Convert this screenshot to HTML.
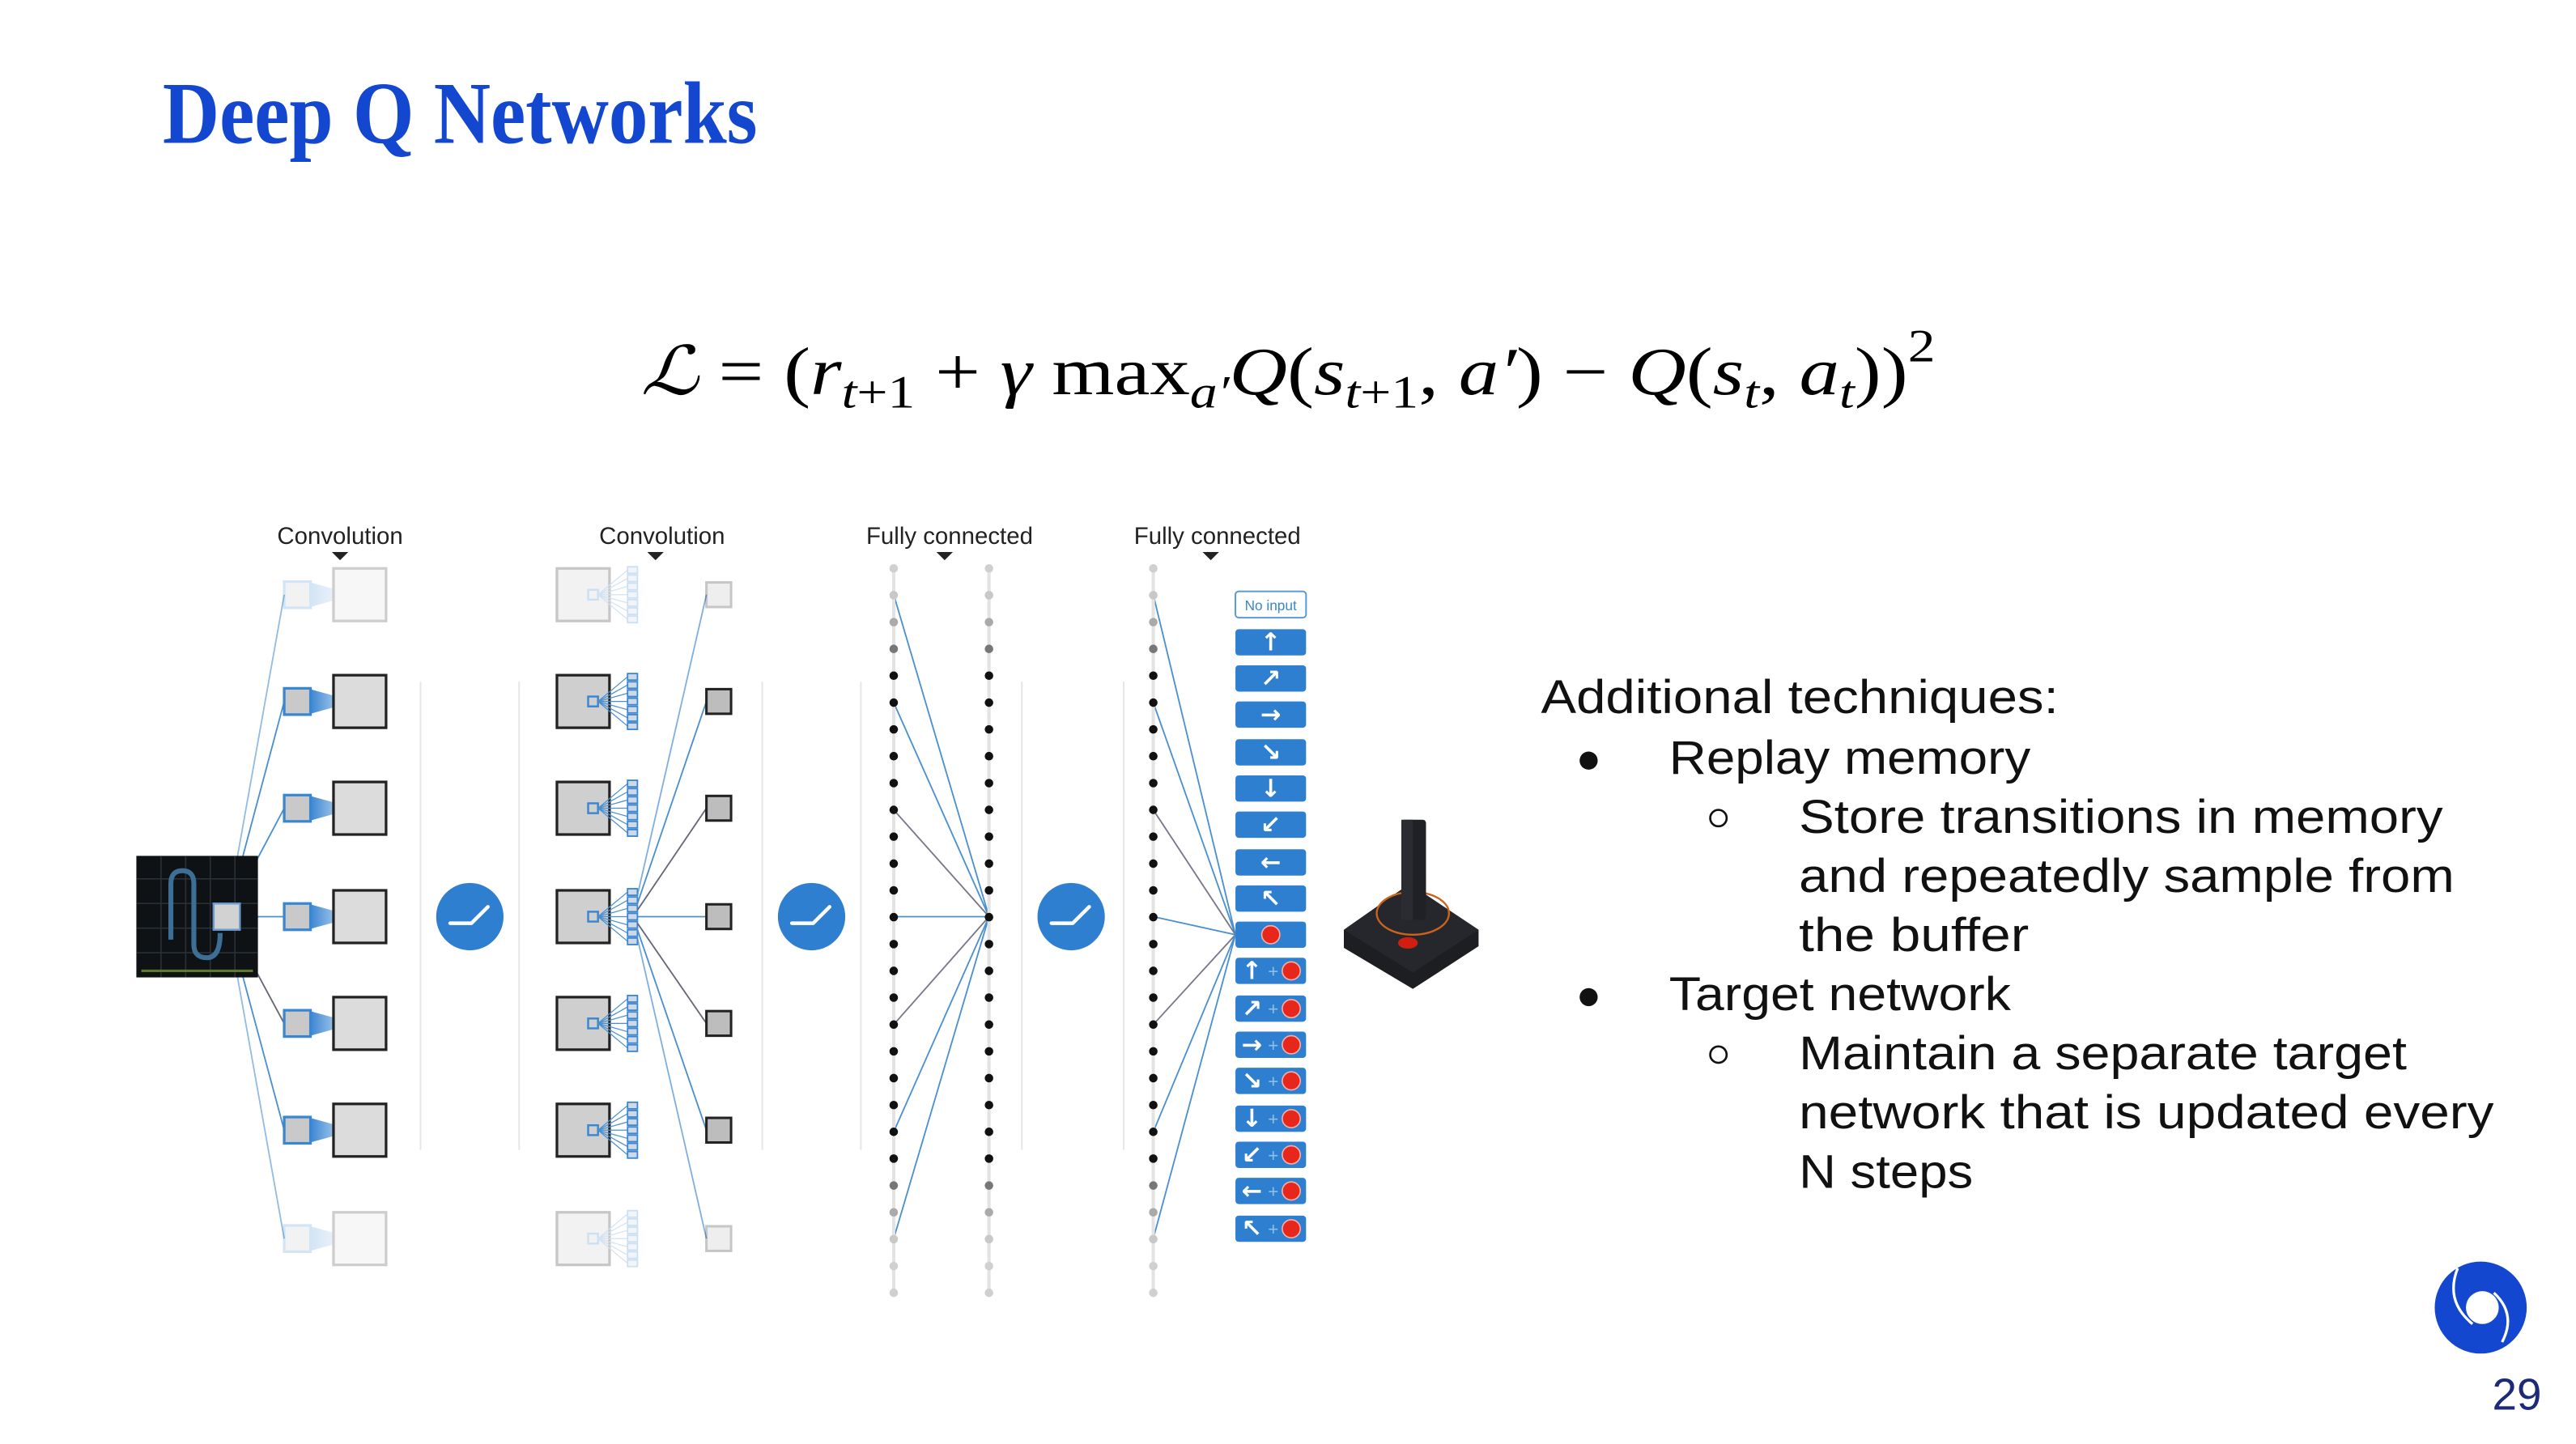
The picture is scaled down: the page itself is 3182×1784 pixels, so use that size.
<!DOCTYPE html>
<html><head><meta charset="utf-8"><style>
html,body{margin:0;padding:0;background:#fff;}
svg{display:block;}
</style></head><body>
<svg width="3182" height="1784" viewBox="0 0 1568 879" xmlns="http://www.w3.org/2000/svg" font-family="Liberation Sans, sans-serif">
<defs>
<linearGradient id="cone" x1="0" x2="1" y1="0" y2="0">
<stop offset="0" stop-color="#2f7fd0"/><stop offset="1" stop-color="#2f7fd0" stop-opacity="0.1"/>
</linearGradient>
<g id="c1">
<polygon points="187,-8 216,0 187,8" fill="url(#cone)"/>
<rect x="173" y="-8" width="16" height="16" fill="#c9c9c9" stroke="#3a86d0" stroke-width="1.6"/>
<rect x="203" y="-16" width="32" height="32" fill="#dcdcdc" stroke="#222" stroke-width="1.6"/>
</g>
<g id="c2">
<rect x="339" y="-16" width="32" height="32" fill="#cfcfcf" stroke="#222" stroke-width="1.6"/>
<rect x="358" y="-3" width="6" height="6" fill="none" stroke="#3a86d0" stroke-width="1.2"/>
<g stroke="#4a90d0" stroke-width="0.6">
<line x1="364" y1="0" x2="382" y2="-15"/><line x1="364" y1="0" x2="382" y2="-10"/><line x1="364" y1="0" x2="382" y2="-5"/><line x1="364" y1="0" x2="382" y2="0"/><line x1="364" y1="0" x2="382" y2="5"/><line x1="364" y1="0" x2="382" y2="10"/><line x1="364" y1="0" x2="382" y2="15"/>
</g>
<g fill="#cfd9e6" stroke="#3a86d0" stroke-width="0.9">
<rect x="382" y="-17" width="6" height="4"/><rect x="382" y="-12" width="6" height="4"/><rect x="382" y="-7" width="6" height="4"/><rect x="382" y="-2" width="6" height="4"/><rect x="382" y="3" width="6" height="4"/><rect x="382" y="8" width="6" height="4"/><rect x="382" y="13" width="6" height="4"/>
</g>
</g>
<g id="sq3"><rect x="430" y="-7.5" width="15" height="15" fill="#bdbdbd" stroke="#222" stroke-width="1.5"/></g>
<g id="dots">
<line x1="0" y1="346" x2="0" y2="787" stroke="#e3e3e3" stroke-width="2"/>
<circle cy="346" r="2.6" fill="#d0d0d0"/><circle cy="362.3" r="2.6" fill="#c8c8c8"/><circle cy="378.7" r="2.6" fill="#aaa"/><circle cy="395" r="2.6" fill="#777"/>
<circle cy="411.3" r="2.6" fill="#111"/><circle cy="427.7" r="2.6" fill="#111"/><circle cy="444" r="2.6" fill="#111"/><circle cy="460.3" r="2.6" fill="#111"/><circle cy="476.7" r="2.6" fill="#111"/><circle cy="493" r="2.6" fill="#111"/><circle cy="509.3" r="2.6" fill="#111"/><circle cy="525.7" r="2.6" fill="#111"/><circle cy="542" r="2.6" fill="#111"/><circle cy="558.3" r="2.6" fill="#111"/><circle cy="574.7" r="2.6" fill="#111"/><circle cy="591" r="2.6" fill="#111"/><circle cy="607.3" r="2.6" fill="#111"/><circle cy="623.7" r="2.6" fill="#111"/><circle cy="640" r="2.6" fill="#111"/><circle cy="656.3" r="2.6" fill="#111"/><circle cy="672.7" r="2.6" fill="#111"/><circle cy="689" r="2.6" fill="#111"/><circle cy="705.3" r="2.6" fill="#111"/>
<circle cy="721.7" r="2.6" fill="#777"/><circle cy="738" r="2.6" fill="#aaa"/><circle cy="754.3" r="2.6" fill="#c8c8c8"/><circle cy="770.7" r="2.6" fill="#d0d0d0"/><circle cy="787" r="2.6" fill="#d0d0d0"/>
</g>
<g id="relu">
<circle r="20.5" fill="#2f7fd0"/>
<polyline points="-12,4 1,4 11,-6" fill="none" stroke="#fff" stroke-width="2.2" stroke-linecap="round" stroke-linejoin="round"/>
</g>
</defs>

<text x="99" y="87" font-family="Liberation Serif, serif" font-weight="bold" font-size="54" fill="#1447d0" textLength="362" lengthAdjust="spacingAndGlyphs">Deep Q Networks</text>

<text x="390" y="240" font-family="Liberation Serif, DejaVu Serif, serif" font-size="41" fill="#000" textLength="788" lengthAdjust="spacingAndGlyphs"><tspan font-style="italic" font-family="DejaVu Serif, serif">ℒ</tspan> = (<tspan font-style="italic">r</tspan><tspan font-size="28" dy="8" font-style="italic">t</tspan><tspan font-size="28">+1</tspan><tspan dy="-8"> + </tspan><tspan font-style="italic">γ</tspan> max<tspan font-size="28" dy="8" font-style="italic">a′</tspan><tspan dy="-8" font-style="italic">Q</tspan>(<tspan font-style="italic">s</tspan><tspan font-size="28" dy="8" font-style="italic">t</tspan><tspan font-size="28">+1</tspan><tspan dy="-8">, </tspan><tspan font-style="italic">a′</tspan>) − <tspan font-style="italic">Q</tspan>(<tspan font-style="italic">s</tspan><tspan font-size="28" dy="8" font-style="italic">t</tspan><tspan dy="-8">, </tspan><tspan font-style="italic">a</tspan><tspan font-size="28" dy="8" font-style="italic">t</tspan><tspan dy="-8">))</tspan><tspan font-size="28" dy="-20">2</tspan></text>

<g font-size="14.5" fill="#222" text-anchor="middle">
<text x="207" y="331">Convolution</text>
<text x="403" y="331">Convolution</text>
<text x="578" y="331">Fully connected</text>
<text x="741" y="331">Fully connected</text>
</g>
<g fill="#222">
<polygon points="202,336 212,336 207,341"/><polygon points="394,336 404,336 399,341"/><polygon points="570,336 580,336 575,341"/><polygon points="732,336 742,336 737,341"/>
</g>

<g stroke="#e6e6e6" stroke-width="1">
<line x1="256" y1="415" x2="256" y2="700"/><line x1="316" y1="415" x2="316" y2="700"/>
<line x1="464" y1="415" x2="464" y2="700"/><line x1="524" y1="415" x2="524" y2="700"/>
<line x1="622" y1="415" x2="622" y2="700"/><line x1="684" y1="415" x2="684" y2="700"/>
</g>

<g stroke="#4a90d0" stroke-width="0.9">
<line x1="138" y1="558" x2="173" y2="362" opacity="0.6"/><line x1="138" y1="558" x2="173" y2="427"/><line x1="138" y1="558" x2="173" y2="492"/><line x1="138" y1="558" x2="173" y2="558"/><line x1="138" y1="558" x2="173" y2="623" stroke="#667"/><line x1="138" y1="558" x2="173" y2="688"/><line x1="138" y1="558" x2="173" y2="754" opacity="0.6"/>
</g>

<rect x="83" y="521" width="74" height="74" fill="#0f1215"/>
<g stroke="#2a3038" stroke-width="0.8">
<line x1="83" y1="535" x2="157" y2="535"/><line x1="83" y1="550" x2="157" y2="550"/><line x1="83" y1="565" x2="157" y2="565"/><line x1="83" y1="580" x2="157" y2="580"/>
<line x1="98" y1="521" x2="98" y2="595"/><line x1="113" y1="521" x2="113" y2="595"/><line x1="128" y1="521" x2="128" y2="595"/><line x1="143" y1="521" x2="143" y2="595"/>
</g>
<path d="M104,572 L104,538 Q104,530 111,530 Q118,530 118,538 L118,575 Q118,583 126,583 Q134,583 134,568" fill="none" stroke="#3d6f96" stroke-width="3"/>
<line x1="86" y1="591" x2="154" y2="591" stroke="#5d7a2a" stroke-width="1.5"/>
<rect x="130" y="550" width="16" height="16" fill="#d2d2d2" stroke="#6a9ad0" stroke-width="1.2"/>

<use href="#c1" y="362" opacity="0.22"/><use href="#c1" y="427"/><use href="#c1" y="492"/><use href="#c1" y="558"/><use href="#c1" y="623"/><use href="#c1" y="688"/><use href="#c1" y="754" opacity="0.22"/>

<use href="#relu" x="286" y="558"/>

<use href="#c2" y="362" opacity="0.25"/><use href="#c2" y="427"/><use href="#c2" y="492"/><use href="#c2" y="558"/><use href="#c2" y="623"/><use href="#c2" y="688"/><use href="#c2" y="754" opacity="0.25"/>
<g stroke="#4a90d0" stroke-width="0.9">
<line x1="388" y1="545" x2="430" y2="362" opacity="0.7"/><line x1="388" y1="550" x2="430" y2="427"/><line x1="388" y1="554" x2="430" y2="492" stroke="#667"/><line x1="388" y1="558" x2="430" y2="558"/><line x1="388" y1="562" x2="430" y2="623" stroke="#667"/><line x1="388" y1="566" x2="430" y2="688"/><line x1="388" y1="571" x2="430" y2="754" opacity="0.7"/>
</g>
<use href="#sq3" y="362" opacity="0.25"/><use href="#sq3" y="427"/><use href="#sq3" y="492"/><use href="#sq3" y="558"/><use href="#sq3" y="623"/><use href="#sq3" y="688"/><use href="#sq3" y="754" opacity="0.25"/>

<use href="#relu" x="494" y="558"/>

<g stroke="#4a90d0" stroke-width="0.9">
<line x1="544" y1="362" x2="602" y2="558"/><line x1="544" y1="427.7" x2="602" y2="558"/><line x1="544" y1="493" x2="602" y2="558" stroke="#778"/><line x1="544" y1="558" x2="602" y2="558"/><line x1="544" y1="623.7" x2="602" y2="558" stroke="#778"/><line x1="544" y1="689" x2="602" y2="558"/><line x1="544" y1="754" x2="602" y2="558"/>
</g>
<use href="#dots" x="544"/><use href="#dots" x="602"/>

<use href="#relu" x="652" y="558"/>

<g stroke="#4a90d0" stroke-width="0.9">
<line x1="702" y1="362" x2="752" y2="569"/><line x1="702" y1="427.7" x2="752" y2="569"/><line x1="702" y1="493" x2="752" y2="569" stroke="#778"/><line x1="702" y1="558" x2="752" y2="569"/><line x1="702" y1="623.7" x2="752" y2="569" stroke="#778"/><line x1="702" y1="689" x2="752" y2="569"/><line x1="702" y1="754" x2="752" y2="569"/>
</g>
<use href="#dots" x="702"/>

<rect x="752" y="360" width="43" height="16" rx="2" fill="#fff" stroke="#5a9ad6" stroke-width="1"/>
<text x="773.5" y="371.5" font-size="8.5" fill="#3a86d0" text-anchor="middle">No input</text>
<g fill="#2f7fd0">
<rect x="752" y="383" width="43" height="16" rx="2"/><rect x="752" y="405" width="43" height="16" rx="2"/><rect x="752" y="427" width="43" height="16" rx="2"/><rect x="752" y="450" width="43" height="16" rx="2"/><rect x="752" y="472" width="43" height="16" rx="2"/><rect x="752" y="494" width="43" height="16" rx="2"/><rect x="752" y="517" width="43" height="16" rx="2"/><rect x="752" y="539" width="43" height="16" rx="2"/><rect x="752" y="561" width="43" height="16" rx="2"/><rect x="752" y="583" width="43" height="16" rx="2"/><rect x="752" y="606" width="43" height="16" rx="2"/><rect x="752" y="628" width="43" height="16" rx="2"/><rect x="752" y="650" width="43" height="16" rx="2"/><rect x="752" y="673" width="43" height="16" rx="2"/><rect x="752" y="695" width="43" height="16" rx="2"/><rect x="752" y="717" width="43" height="16" rx="2"/><rect x="752" y="740" width="43" height="16" rx="2"/>
</g>
<g fill="#fff" font-family="DejaVu Sans, sans-serif" font-size="15" font-weight="bold" text-anchor="middle">
<text x="773.5" y="396">↑</text><text x="773.5" y="418">↗</text><text x="773.5" y="440">→</text><text x="773.5" y="463">↘</text><text x="773.5" y="485">↓</text><text x="773.5" y="507">↙</text><text x="773.5" y="530">←</text><text x="773.5" y="552">↖</text>
<text x="762" y="596">↑</text><text x="762" y="619">↗</text><text x="762" y="641">→</text><text x="762" y="663">↘</text><text x="762" y="686">↓</text><text x="762" y="708">↙</text><text x="762" y="730">←</text><text x="762" y="753">↖</text>
</g>
<g fill="#8cc0ec" font-size="11" text-anchor="middle">
<text x="775" y="595">+</text><text x="775" y="618">+</text><text x="775" y="640">+</text><text x="775" y="662">+</text><text x="775" y="685">+</text><text x="775" y="707">+</text><text x="775" y="729">+</text><text x="775" y="752">+</text>
</g>
<g fill="#e8271c" stroke="#f3b0a8" stroke-width="0.8">
<circle cx="773.5" cy="569" r="5.5"/>
<circle cx="786" cy="591" r="5.5"/><circle cx="786" cy="614" r="5.5"/><circle cx="786" cy="636" r="5.5"/><circle cx="786" cy="658" r="5.5"/><circle cx="786" cy="681" r="5.5"/><circle cx="786" cy="703" r="5.5"/><circle cx="786" cy="725" r="5.5"/><circle cx="786" cy="748" r="5.5"/>
</g>

<polygon points="818,566 858,538 900,566 900,576 860,602 818,577" fill="#1d1e22"/>
<polygon points="818,566 858,538 900,566 860,592" fill="#26272c"/>
<ellipse cx="860" cy="556" rx="22" ry="13" fill="none" stroke="#c8641e" stroke-width="1.2"/>
<rect x="853" y="499" width="15" height="61" rx="2" fill="#202126"/>
<rect x="853" y="499" width="7" height="61" fill="#2b2c31"/>
<ellipse cx="857" cy="574" rx="6" ry="3.5" fill="#d01f10"/>

<g font-size="29" fill="#111">
<text x="938" y="434" textLength="315" lengthAdjust="spacingAndGlyphs">Additional techniques:</text>
<text x="1016" y="471" textLength="220" lengthAdjust="spacingAndGlyphs">Replay memory</text>
<text x="1095" y="507" textLength="392" lengthAdjust="spacingAndGlyphs">Store transitions in memory</text>
<text x="1095" y="543" textLength="399" lengthAdjust="spacingAndGlyphs">and repeatedly sample from</text>
<text x="1095" y="579" textLength="140" lengthAdjust="spacingAndGlyphs">the buffer</text>
<text x="1016" y="615" textLength="208" lengthAdjust="spacingAndGlyphs">Target network</text>
<text x="1095" y="651" textLength="370" lengthAdjust="spacingAndGlyphs">Maintain a separate target</text>
<text x="1095" y="687" textLength="423" lengthAdjust="spacingAndGlyphs">network that is updated every</text>
<text x="1095" y="723" textLength="106" lengthAdjust="spacingAndGlyphs">N steps</text>
</g>
<circle cx="967" cy="463" r="5.5" fill="#111"/>
<circle cx="967" cy="607" r="5.5" fill="#111"/>
<circle cx="1046" cy="498" r="5" fill="none" stroke="#111" stroke-width="1.3"/>
<circle cx="1046" cy="642" r="5" fill="none" stroke="#111" stroke-width="1.3"/>

<circle cx="1510" cy="796" r="28" fill="#1447d0"/>
<circle cx="1511" cy="796" r="10" fill="#fff"/>
<path d="M1496,772 Q1488,792 1505,806" fill="none" stroke="#fff" stroke-width="1.6"/>
<path d="M1518,787 Q1532,800 1523,817" fill="none" stroke="#fff" stroke-width="1.6"/>
<text x="1517" y="858" font-size="27" fill="#1c2a7a">29</text>
</svg>
</body></html>
